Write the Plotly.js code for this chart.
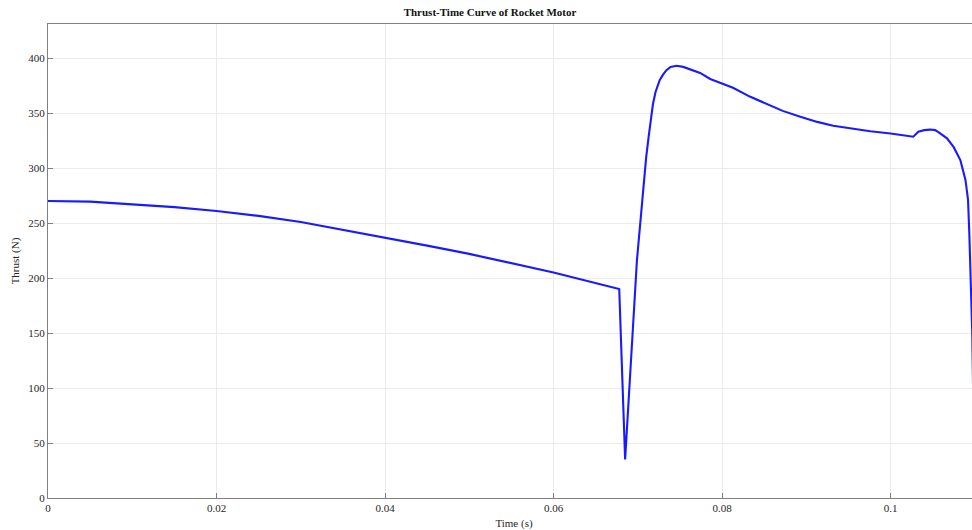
<!DOCTYPE html>
<html>
<head>
<meta charset="utf-8">
<script src="https://cdn.plot.ly/plotly-3.0.1.min.js"></script>
<style>
html,body{margin:0;padding:0;overflow:hidden;background:#fff;}
#chart{width:980px;height:530px;}
</style>
</head>
<body>
<div id="chart"></div>
<script>
const timeS = [0, 0.005, 0.01, 0.015, 0.02, 0.025, 0.03, 0.035, 0.04, 0.045, 0.05, 0.055, 0.06, 0.0678,
  0.0685, 0.0699, 0.0707, 0.0710, 0.0713, 0.07157, 0.0718, 0.0721, 0.0726, 0.0730, 0.0734, 0.0739, 0.0746, 0.0754, 0.0762, 0.0774,
  0.0786, 0.08, 0.0813, 0.0833, 0.0852, 0.0872, 0.0892, 0.0913, 0.0932, 0.0952, 0.0976, 0.1, 0.1027,
  0.1033, 0.1040, 0.1047, 0.1053, 0.1059, 0.1067, 0.1075, 0.1083, 0.1089, 0.1092, 0.10935, 0.1095, 0.10963, 0.1097, 0.1100];
const thrustN = [270, 269.5, 267, 264.5, 261, 256.5, 251, 244, 237, 229.5, 222, 213.5, 205, 190,
  35, 216, 287, 310, 329, 345, 358, 369, 380, 385, 389, 392, 393, 392, 390, 386.5,
  381, 377, 373, 365, 358.5, 352, 347, 342, 338.5, 336, 333.5, 331.5, 328.5,
  333, 334.5, 335, 334.5, 331.5, 327, 319, 307, 289, 271, 241, 210, 174, 150, 0];
const xTicks = [0, 0.02, 0.04, 0.06, 0.08, 0.1];
const xTickText = ['0', '0.02', '0.04', '0.06', '0.08', '0.1'];
const yTicks = [0, 50, 100, 150, 200, 250, 300, 350, 400];

const font = {family: 'Liberation Serif, Times New Roman, serif', size: 11, color: '#262626'};

Plotly.newPlot('chart', [{
  x: timeS, y: thrustN, type: 'scatter', mode: 'lines',
  line: {color: '#1a1aff', width: 2.1, shape: 'linear'},
  hoverinfo: 'skip'
}], {
  width: 980, height: 530,
  margin: {l: 48, r: 0, t: 24, b: 32},
  paper_bgcolor: '#fff', plot_bgcolor: '#fff',
  font: font,
  showlegend: false,
  title: {text: '<b>Thrust-Time Curve of Rocket Motor</b>', font: {family: font.family, size: 11, color: '#111'}, x: 0.5, xanchor: 'center', y: 0.977, yanchor: 'middle'},
  xaxis: {
    range: [0, 0.11062], tickvals: xTicks, ticktext: xTickText,
    showgrid: true, gridcolor: '#ebebeb', gridwidth: 1,
    showline: true, linecolor: '#808080', linewidth: 1, mirror: true,
    ticks: 'inside', ticklen: 5, tickcolor: '#808080',
    zeroline: false, tickfont: font,
    title: {text: 'Time (s)', font: font, standoff: 7}
  },
  yaxis: {
    range: [0, 431], tickvals: yTicks,
    showgrid: true, gridcolor: '#ebebeb', gridwidth: 1,
    showline: true, linecolor: '#808080', linewidth: 1, mirror: true,
    ticks: 'inside', ticklen: 5, tickcolor: '#808080',
    zeroline: false, tickfont: font,
    title: {text: 'Thrust (N)', font: font, standoff: 6}
  }
}, {displayModeBar: false, staticPlot: true});
</script>
</body>
</html>
